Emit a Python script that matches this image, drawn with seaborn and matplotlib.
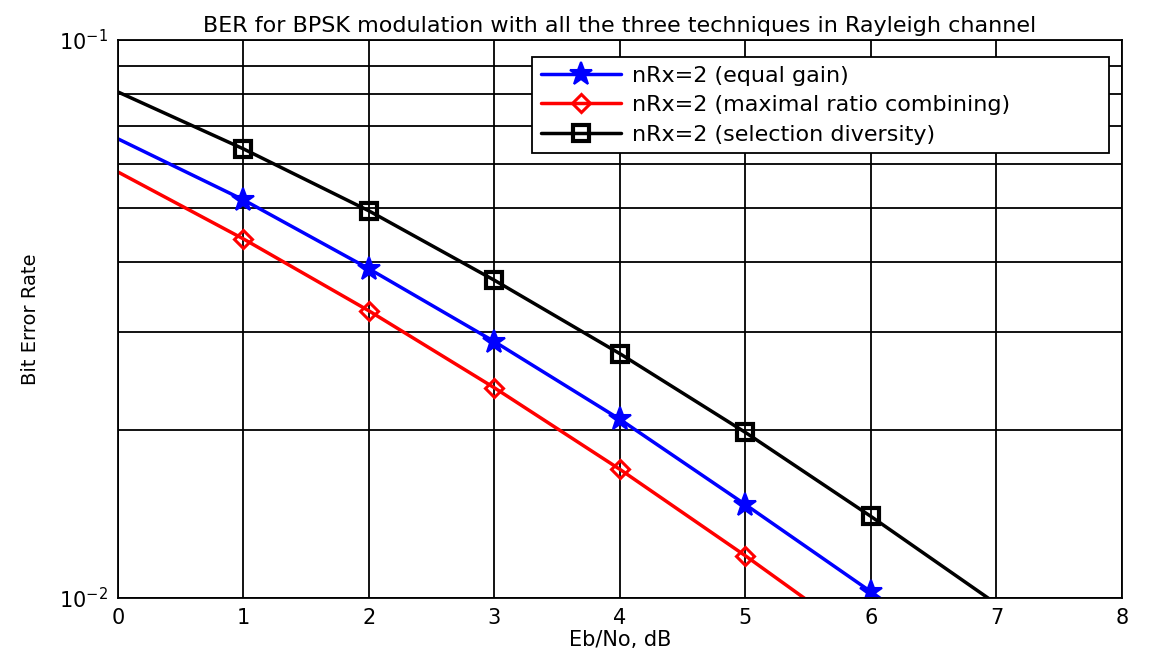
import matplotlib
matplotlib.use("Agg")
import matplotlib.pyplot as plt
import matplotlib.ticker as mticker
import seaborn as sns
import pandas as pd

# Data
ebno_db = [0, 1, 2, 3, 4, 5, 6, 7]
ber_egc = [0.0665, 0.0517, 0.0389, 0.0288, 0.0209, 0.0147, 0.01026, 0.0071]
ber_mrc = [0.0580, 0.0440, 0.0327, 0.0238, 0.0170, 0.0119, 0.0082, 0.0056]
ber_sel = [0.0807, 0.0638, 0.0494, 0.0371, 0.0274, 0.0198, 0.0140, 0.00976]
labels = ["nRx=2 (equal gain)",
          "nRx=2 (maximal ratio combining)",
          "nRx=2 (selection diversity)"]
x_ticks = [0, 1, 2, 3, 4, 5, 6, 7, 8]
marker_points = [1, 2, 3, 4, 5, 6]

sns.set_style("white")
plt.rcParams["font.family"] = ["DejaVu Sans"]
plt.rcParams["mathtext.fontset"] = "dejavusans"
plt.rcParams["text.color"] = "black"
plt.rcParams["axes.labelcolor"] = "black"
plt.rcParams["xtick.color"] = "black"
plt.rcParams["ytick.color"] = "black"

fig = plt.figure(figsize=(11.5, 6.59), dpi=100)
ax = fig.add_axes([0.1026, 0.0926, 0.8730, 0.8467])

series = [
    (ber_egc, "#0000ff", "*", dict(markersize=17, markerfacecolor="#0000ff", markeredgecolor="#0000ff", markeredgewidth=1.5)),
    (ber_mrc, "#ff0000", "D", dict(markersize=9.5, markerfacecolor="none", markeredgecolor="#ff0000", markeredgewidth=2.2)),
    (ber_sel, "#000000", "s", dict(markersize=11, markerfacecolor="none", markeredgecolor="#000000", markeredgewidth=3.0)),
]
for (vals, col, mk, mkw), lab in zip(series, labels):
    df = pd.DataFrame({"x": ebno_db, "y": vals})
    sns.lineplot(data=df, x="x", y="y", ax=ax, color=col, linewidth=2.5,
                 marker=mk, markevery=marker_points,
                 label=lab, **mkw)

ax.set_yscale("log")
ax.set_xlim(0, 8)
ax.set_ylim(1e-2, 1e-1)
ax.set_xticks(x_ticks)
ax.yaxis.set_major_locator(mticker.LogLocator(base=10))
ax.yaxis.set_minor_locator(mticker.LogLocator(base=10, subs=range(2, 10)))
ax.yaxis.set_minor_formatter(mticker.NullFormatter())
ax.grid(True, which="both", color="black", linewidth=1.3)
ax.set_axisbelow(True)
for s in ax.spines.values():
    s.set_color("black")
    s.set_linewidth(1.3)
ax.tick_params(which="both", length=0, labelsize=15, pad=7, colors="black")

ax.set_title("BER for BPSK modulation with all the three techniques in Rayleigh channel",
             fontsize=16, pad=6, color="black")
ax.set_xlabel("Eb/No, dB", fontsize=15, labelpad=2, color="black")
ax.set_ylabel("Bit Error Rate", fontsize=14, labelpad=14, color="black")

leg = ax.legend(loc="upper left", bbox_to_anchor=(0.412, 0.7975, 0.575, 0.172),
                mode="expand", fontsize=16, frameon=True, fancybox=False,
                edgecolor="black", framealpha=1, borderaxespad=0.0,
                handlelength=3.6, handletextpad=0.5, labelspacing=0.42, borderpad=0.4)
leg.get_frame().set_linewidth(1.3)
for t in leg.get_texts():
    t.set_color("black")

fig.savefig("out.png", dpi=100)
